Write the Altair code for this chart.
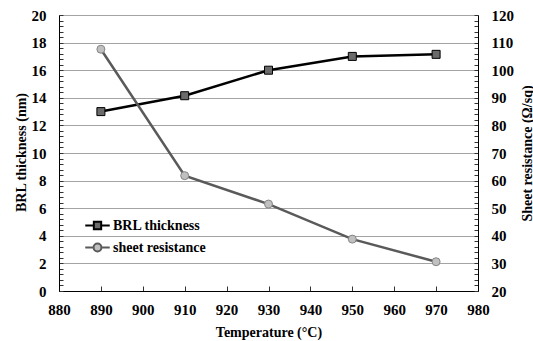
import altair as alt
import pandas as pd

temps = [890, 910, 930, 950, 970]
brl_thickness = [13.0, 14.15, 16.0, 17.0, 17.15]
sheet_resistance = [107.6, 61.8, 51.5, 38.8, 30.6]
series = ["BRL thickness", "sheet resistance"]

x_ticks = list(range(880, 981, 10))
left_ticks = [round(i * 0.4, 1) for i in range(51)]
right_ticks = list(range(20, 121, 2))

df = pd.DataFrame({"T": temps, "BRL": brl_thickness, "R": sheet_resistance})
df_leg = pd.DataFrame({"s": series})

FONT = "Liberation Serif"
GRID = "#a4a4a4"

x = alt.X(
    "T:Q",
    scale=alt.Scale(domain=[880, 980], nice=False, zero=False),
    axis=alt.Axis(
        values=x_ticks, title="Temperature (°C)", grid=False,
        labelFlush=False, labelOverlap=False, tickSize={"expr": "-5"},
        labelPadding=16, titleY=41, titleBaseline="middle",
    ),
)

left_major = "abs(datum.value/2 - round(datum.value/2)) < 0.01"
yL = alt.Y(
    "BRL:Q",
    scale=alt.Scale(domain=[0, 20], nice=False),
    axis=alt.Axis(
        orient="left", values=left_ticks, title="BRL thickness (nm)",
        labelExpr=f"{left_major} ? '' + datum.value : ''",
        labelOverlap=False, tickSize={"expr": "-4"}, labelPadding=17,
        grid=True, gridColor=GRID, gridWidth=1.2,
        gridOpacity={"condition": {"test": left_major, "value": 1}, "value": 0},
        titleX=-38, titleY=137, titleAngle=270, titleBaseline="middle", titleAlign="center",
    ),
)

right_major = "datum.value % 10 == 0"
yR = alt.Y(
    "R:Q",
    scale=alt.Scale(domain=[20, 120], nice=False, zero=False),
    axis=alt.Axis(
        orient="right", values=right_ticks, title="Sheet resistance (Ω/sq)",
        labelExpr=f"{right_major} ? '' + datum.value : ''",
        labelOverlap=False, tickSize={"expr": "-4"}, labelPadding=17, grid=False,
        titleX=49, titleY=138, titleAngle=270, titleBaseline="middle", titleAlign="center",
    ),
)

base = alt.Chart(df)
brl = alt.layer(
    base.mark_line(color="#000000", strokeWidth=2.5).encode(x=x, y=yL),
    base.mark_square(size=64, color="#6b6b6b", stroke="#000000", strokeWidth=1, opacity=1).encode(x=x, y=yL),
)
sheet = alt.layer(
    base.mark_line(color="#5a5a5a", strokeWidth=2.5).encode(x=x, y=yR),
    base.mark_circle(size=64, color="#c0c0c0", stroke="#858585", strokeWidth=1, opacity=1).encode(x=x, y=yR),
)

sq_path = "M-1,0H-0.3M0.3,0H1M-0.3,-0.3H0.3V0.3H-0.3Z"
ci_path = "M-1,0H-0.32M0.32,0H1M0.32,0A0.32,0.32,0,1,1,-0.32,0A0.32,0.32,0,1,1,0.32,0Z"
leg_def = alt.Legend(
    title=None, orient="none", legendX=25, legendY=197, padding=0,
    symbolSize=600, symbolStrokeWidth=2, rowPadding=0, labelOffset=2,
    labelFont=FONT, labelFontSize=14, labelFontWeight="bold", labelColor="#000000",
)
legend_layer = alt.Chart(df_leg).mark_point(filled=True, opacity=1, size=600, strokeWidth=2).encode(
    shape=alt.Shape("s:N", scale=alt.Scale(domain=series, range=[sq_path, ci_path]), legend=leg_def),
    fill=alt.Fill("s:N", scale=alt.Scale(domain=series, range=["#6b6b6b", "#c0c0c0"]), legend=leg_def),
    stroke=alt.Stroke("s:N", scale=alt.Scale(domain=series, range=["#000000", "#5a5a5a"]), legend=leg_def),
).transform_filter("false")

chart = alt.layer(brl, sheet, legend_layer).resolve_scale(y="independent").properties(
    width=419, height=276,
    padding={"left": 59, "top": 15, "right": 55, "bottom": 50},
    autosize=alt.AutoSizeParams(type="none"),
).configure_view(stroke=None).configure_axis(
    labelFont=FONT, labelFontSize=15, labelFontWeight="bold", labelColor="#000000",
    titleFont=FONT, titleFontSize=14, titleFontWeight="bold", titleColor="#000000",
    domainColor="#000000", domainWidth=1, tickColor="#333333", tickWidth=1,
)

chart.save("out.html", embed_options={"renderer": "svg", "actions": False})
